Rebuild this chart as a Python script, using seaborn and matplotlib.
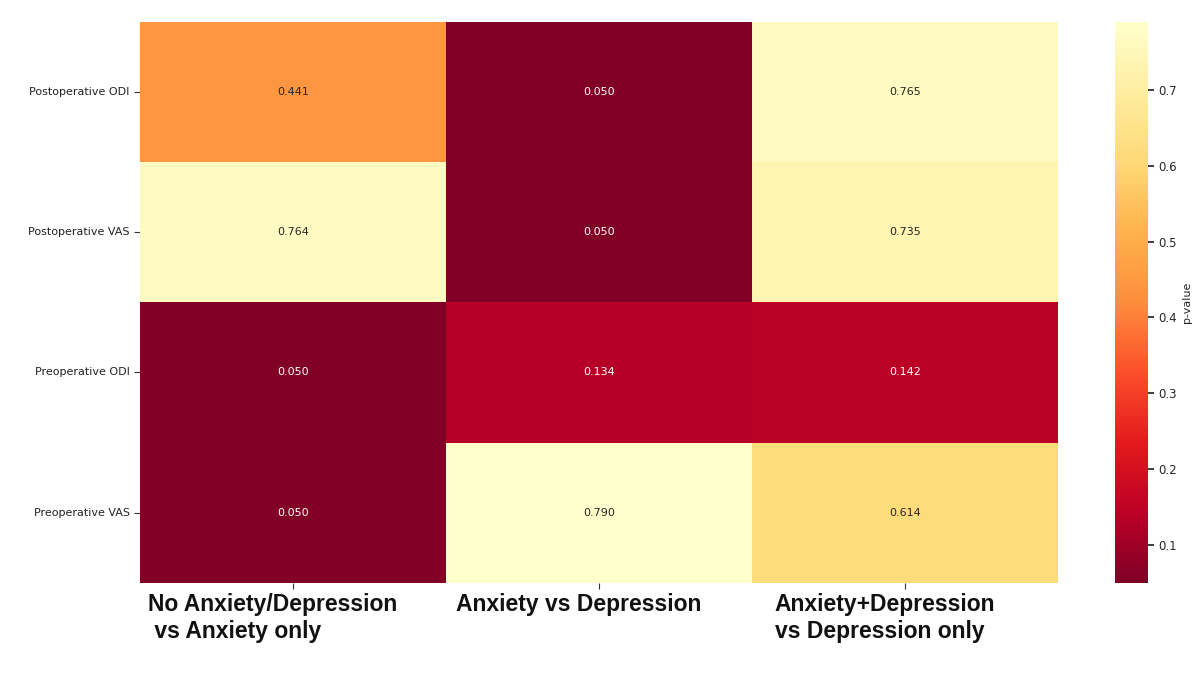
import matplotlib
matplotlib.use("Agg")
import matplotlib.pyplot as plt
import matplotlib.transforms as mtransforms
import pandas as pd
import seaborn as sns

ROWS = ["Postoperative ODI", "Postoperative VAS", "Preoperative ODI", "Preoperative VAS"]
COLS = [
    "No Anxiety/Depression\n vs Anxiety only",
    "Anxiety vs Depression",
    "Anxiety+Depression\nvs Depression only",
]
NO_VS_ANX = [0.441, 0.764, 0.050, 0.050]
ANX_VS_DEP = [0.050, 0.050, 0.134, 0.790]
BOTH_VS_DEP = [0.765, 0.735, 0.142, 0.614]

df = pd.DataFrame(
    {COLS[0]: NO_VS_ANX, COLS[1]: ANX_VS_DEP, COLS[2]: BOTH_VS_DEP},
    index=ROWS,
)

sns.set_theme(style="white")
plt.rcParams["font.family"] = ["DejaVu Sans"]

fig = plt.figure(figsize=(11.98, 6.77), dpi=100)
ax = fig.add_axes([0.117, 0.139, 0.766, 0.829])
cax = fig.add_axes([0.931, 0.139, 0.027, 0.829])

sns.heatmap(
    df,
    cmap="YlOrRd_r",
    vmin=0.05,
    vmax=0.79,
    annot=True,
    fmt=".3f",
    annot_kws={"fontsize": 8},
    cbar_ax=cax,
    cbar_kws={"label": "p-value"},
    ax=ax,
)

ax.tick_params(axis="both", length=4, width=0.8, color="#333333", bottom=True, left=True)
ax.set_yticklabels(ROWS, rotation=0, fontsize=8, color="#222222")
ax.set_xticklabels(
    COLS,
    rotation=0,
    fontsize=16.5,
    fontweight="bold",
    family=["Liberation Sans"],
    color="#111111",
    ha="center",
    multialignment="left",
)
# labels in the original sit a bit left of the column centres
offset = mtransforms.ScaledTranslation(-0.2, 0, fig.dpi_scale_trans)
for lbl in ax.get_xticklabels():
    lbl.set_transform(lbl.get_transform() + offset)

cax.tick_params(labelsize=8.5, length=4)
cax.set_ylabel("p-value", fontsize=8)
cax.set_yticks([0.1, 0.2, 0.3, 0.4, 0.5, 0.6, 0.7])

fig.savefig("out.png", dpi=100)
